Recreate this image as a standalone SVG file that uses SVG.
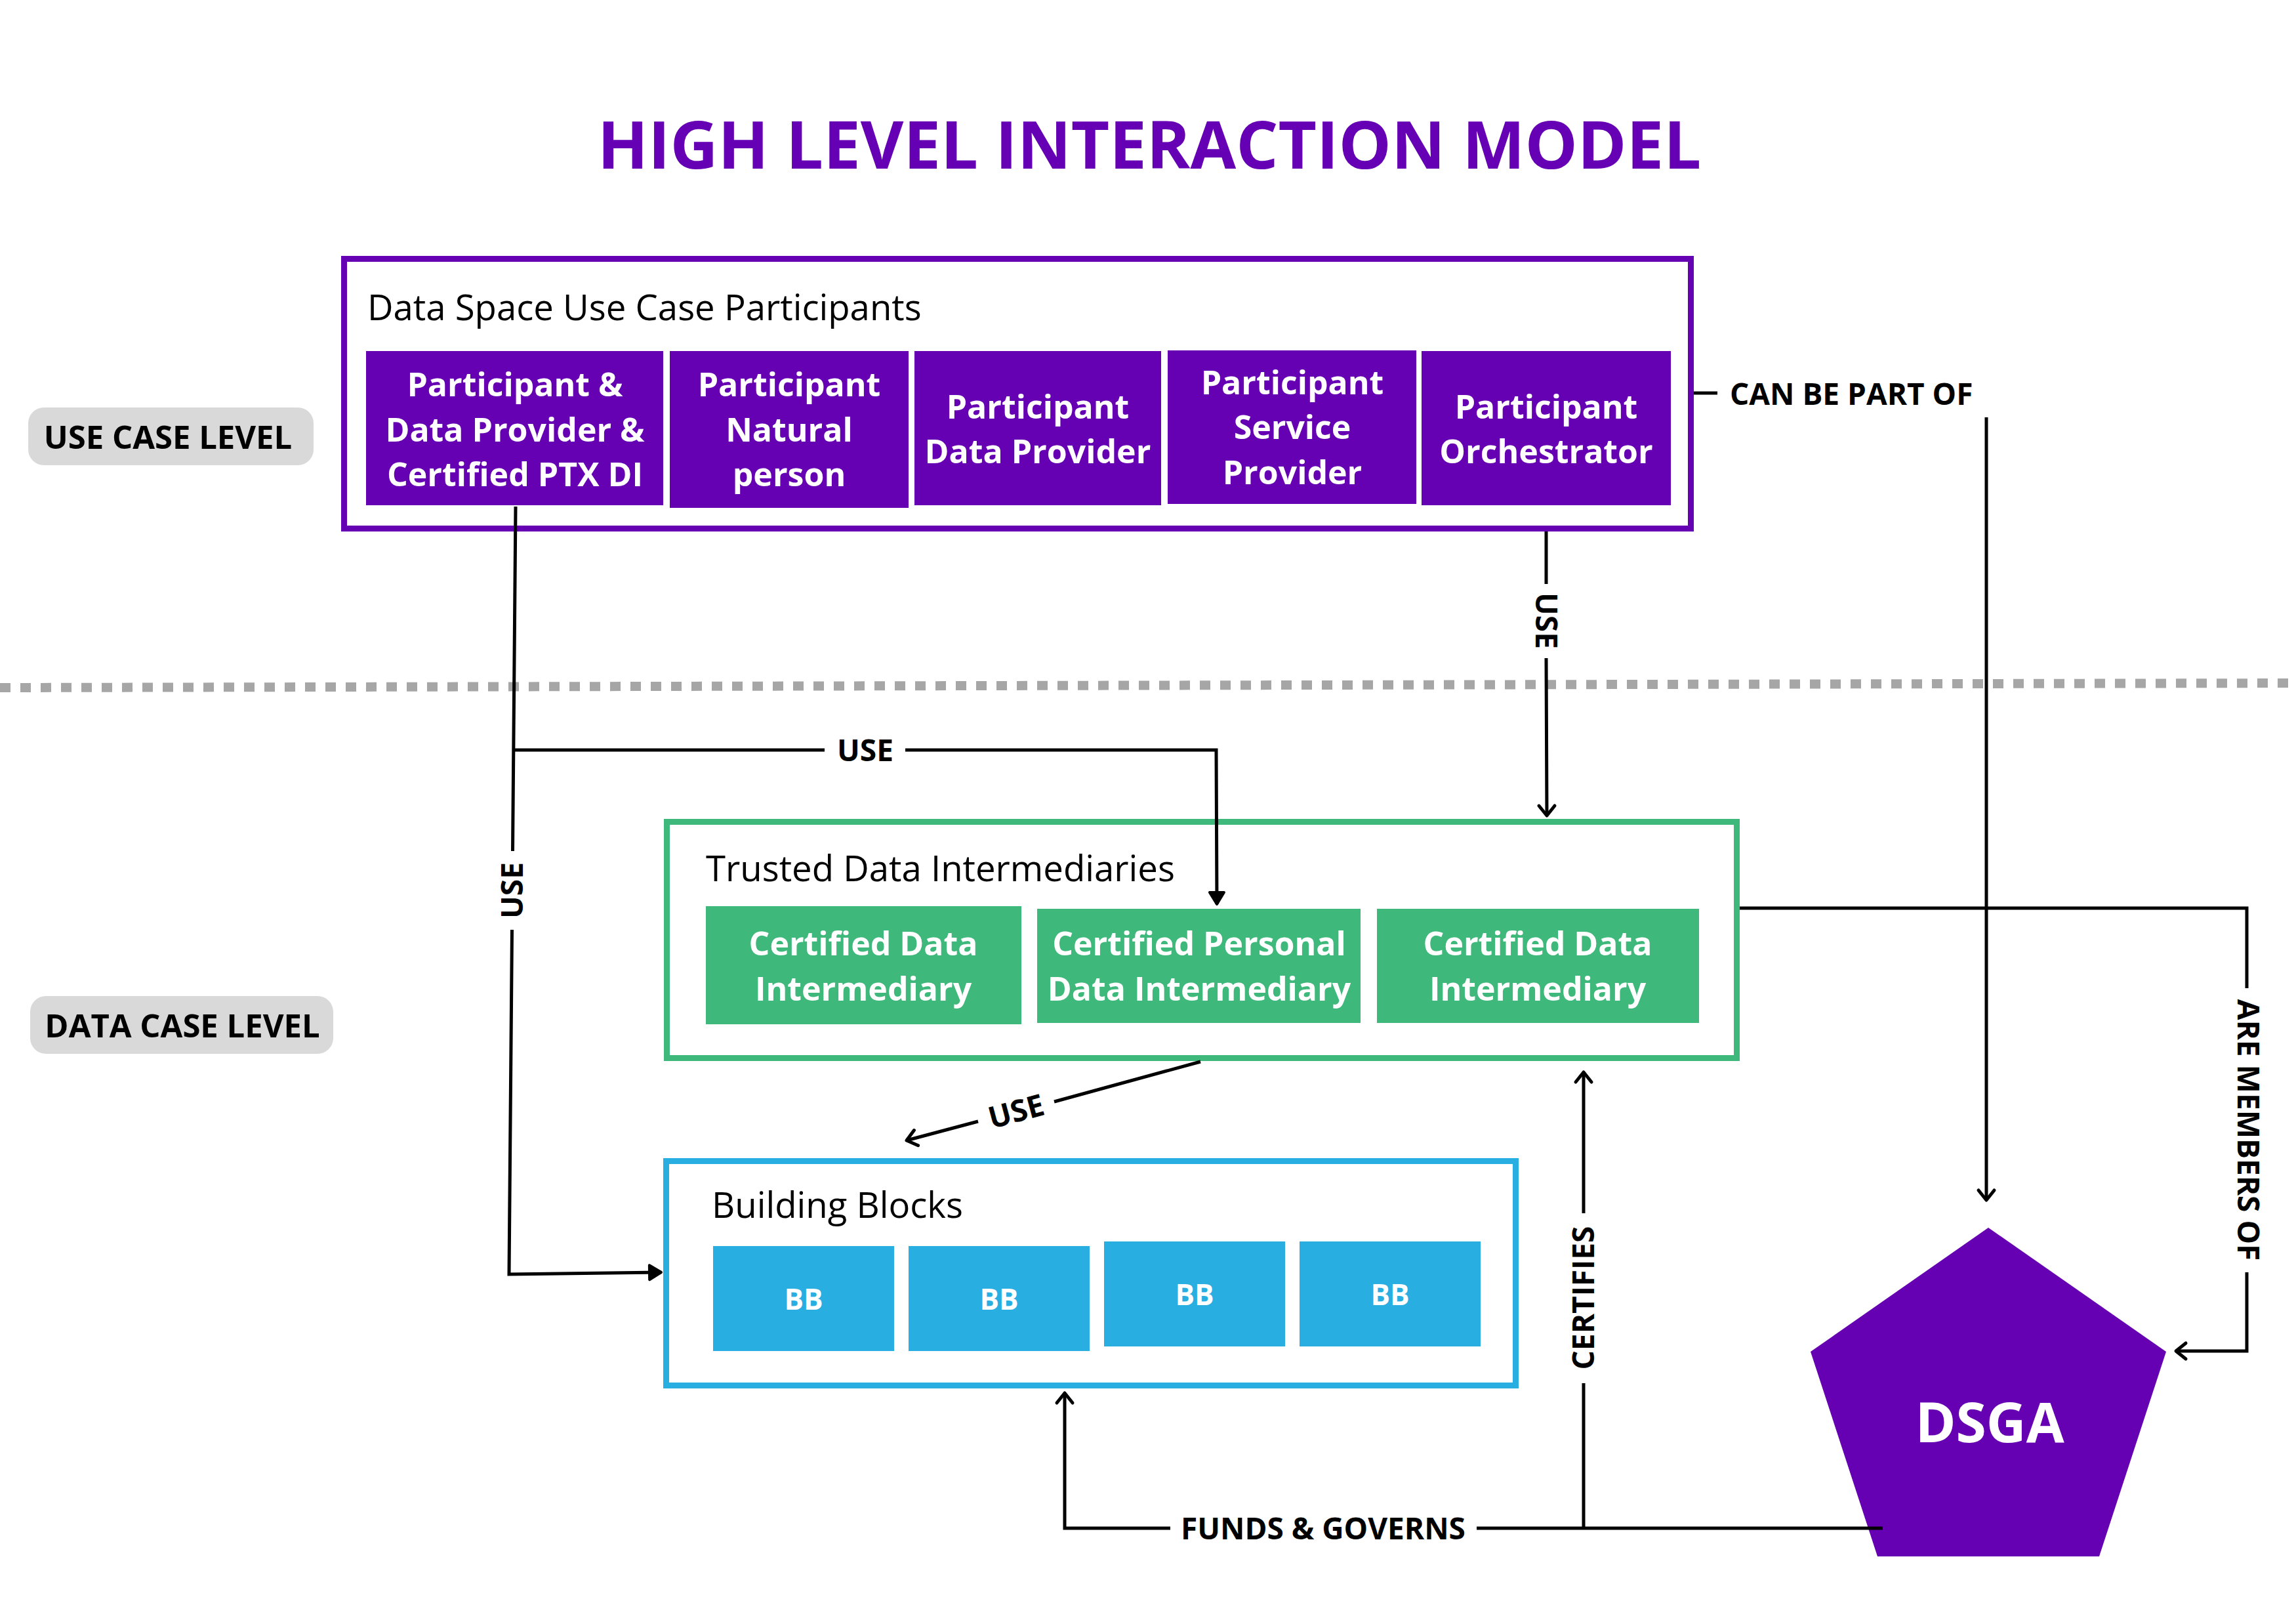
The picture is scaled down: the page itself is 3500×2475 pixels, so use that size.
<svg xmlns="http://www.w3.org/2000/svg" width="3500" height="2475" viewBox="0 0 3500 2475">
<defs>
<style>
text{font-family:"Open Sans","Noto Sans","Liberation Sans",sans-serif}
.title{font-size:101px;font-weight:700;fill:#6600b4}
.head{font-size:54.5px;font-weight:400;fill:#000}
.wt{font-size:50px;font-weight:700;fill:#fff;text-anchor:middle}
.bb{font-size:44px;font-weight:700;fill:#fff;text-anchor:middle}
.lbl{font-size:46px;font-weight:700;fill:#000}
.mid{text-anchor:middle}
.lvl{font-size:49px;font-weight:700;fill:#000;text-anchor:middle}
.pill{fill:#d9d9d9}
.pur{fill:#6500b3}
.grn{fill:#3fb87b}
.blu{fill:#29aee2}
.conn{fill:none;stroke:#000;stroke-width:5;stroke-linejoin:miter}
</style>
<marker id="chev" markerUnits="userSpaceOnUse" markerWidth="60" markerHeight="60" viewBox="-30 -30 60 60" refX="0" refY="0" orient="auto" overflow="visible">
<path d="M-15,-12 L0,0 L-15,12" fill="none" stroke="#000" stroke-width="5" stroke-linecap="round" stroke-linejoin="round"/>
</marker>
<marker id="tri" markerUnits="userSpaceOnUse" markerWidth="60" markerHeight="60" viewBox="-30 -30 60 60" refX="0" refY="0" orient="auto" overflow="visible">
<path d="M-18,-11 L0,0 L-18,11 Z" fill="#000" stroke="#000" stroke-width="4" stroke-linejoin="round"/>
</marker>
</defs>
<rect width="3500" height="2475" fill="#fff"/>

<text class="title mid" x="1752" y="257">HIGH LEVEL INTERACTION MODEL</text>

<line x1="0" y1="1048" x2="3500" y2="1041" stroke="#a6a6a6" stroke-width="14" stroke-dasharray="16 15"/>

<g id="use-case-level">
<rect class="pill" x="43" y="621" width="435" height="88" rx="24"/>
<text class="lvl" x="256" y="684">USE CASE LEVEL</text>
</g>
<g id="data-case-level">
<rect class="pill" x="46" y="1518" width="462" height="88" rx="24"/>
<text class="lvl" x="278" y="1581">DATA CASE LEVEL</text>
</g>

<g id="participants">
<rect x="524.5" y="394.5" width="2053" height="411" fill="#fff" stroke="#6500b3" stroke-width="9"/>
<text class="head" x="560" y="488">Data Space Use Case Participants</text>
</g>
<g id="p1">
<rect class="pur" x="558" y="535" width="453" height="235"/>
<text class="wt" x="785" y="604">Participant &amp;</text>
<text class="wt" x="785" y="673">Data Provider &amp;</text>
<text class="wt" x="785" y="741">Certified PTX DI</text>
</g>
<g id="p2">
<rect class="pur" x="1021" y="535" width="364" height="239"/>
<text class="wt" x="1203" y="604">Participant</text>
<text class="wt" x="1203" y="673">Natural</text>
<text class="wt" x="1203" y="741">person</text>
</g>
<g id="p3">
<rect class="pur" x="1394" y="535" width="376" height="235"/>
<text class="wt" x="1582" y="638">Participant</text>
<text class="wt" x="1582" y="706">Data Provider</text>
</g>
<g id="p4">
<rect class="pur" x="1780" y="534" width="379" height="234"/>
<text class="wt" x="1970" y="601">Participant</text>
<text class="wt" x="1970" y="669">Service</text>
<text class="wt" x="1970" y="738">Provider</text>
</g>
<g id="p5">
<rect class="pur" x="2167" y="535" width="380" height="235"/>
<text class="wt" x="2357" y="638">Participant</text>
<text class="wt" x="2357" y="706">Orchestrator</text>
</g>

<g id="intermediaries">
<rect x="1016.5" y="1252.5" width="1631" height="360" fill="#fff" stroke="#3fb87b" stroke-width="9"/>
<text class="head" x="1076" y="1343">Trusted Data Intermediaries</text>
</g>
<g id="cdi1">
<rect class="grn" x="1076" y="1381" width="481" height="180"/>
<text class="wt" x="1316" y="1456">Certified Data</text>
<text class="wt" x="1316" y="1525">Intermediary</text>
</g>
<g id="cpdi">
<rect class="grn" x="1581" y="1385" width="493" height="174"/>
<text class="wt" x="1828" y="1456">Certified Personal</text>
<text class="wt" x="1828" y="1525">Data Intermediary</text>
</g>
<g id="cdi2">
<rect class="grn" x="2099" y="1385" width="491" height="174"/>
<text class="wt" x="2344" y="1456">Certified Data</text>
<text class="wt" x="2344" y="1525">Intermediary</text>
</g>

<g id="building-blocks">
<rect x="1015.5" y="1769.5" width="1295" height="342" fill="#fff" stroke="#29aee2" stroke-width="9"/>
<text class="head" x="1085" y="1856">Building Blocks</text>
</g>
<g id="bb1">
<rect class="blu" x="1087" y="1899" width="276" height="160"/>
<text class="bb" x="1225" y="1996">BB</text>
</g>
<g id="bb2">
<rect class="blu" x="1385" y="1899" width="276" height="160"/>
<text class="bb" x="1523" y="1996">BB</text>
</g>
<g id="bb3">
<rect class="blu" x="1683" y="1892" width="276" height="160"/>
<text class="bb" x="1821" y="1989">BB</text>
</g>
<g id="bb4">
<rect class="blu" x="1981" y="1892" width="276" height="160"/>
<text class="bb" x="2119" y="1989">BB</text>
</g>

<g id="dsga">
<polygon class="pur" points="3031,1871 3302,2060 3200,2372 2862,2372 2760,2060"/>
<text x="3033" y="2198" font-size="84" font-weight="700" fill="#fff" text-anchor="middle">DSGA</text>
</g>

<g id="connectors">
<path class="conn" stroke-width="4" d="M786,772 L781.5,1297 M780.5,1417 L776,1942 L1008,1939" marker-end="url(#tri)"/>
<path class="conn" d="M785,1143 L1257,1143 M1380,1143 L1854,1143 L1855,1378" marker-end="url(#tri)"/>
<path class="conn" d="M2357,810 L2357,890 M2357,1003 L2358,1243" marker-end="url(#chev)"/>
<path class="conn" d="M2582,599 L2618,599 M3028,636 L3028,1829" marker-end="url(#chev)"/>
<path class="conn" d="M2652,1384 L3425,1384 L3425,1506 M3425,1939 L3425,2059 L3317,2059" marker-end="url(#chev)"/>
<path class="conn" d="M1830,1618 L1607,1679 M1491,1709 L1382,1738" marker-end="url(#chev)"/>
<path class="conn" d="M2870,2329 L2251,2329 M1784,2329 L1623,2329 L1623,2123" marker-end="url(#chev)"/>
<path class="conn" d="M2414,2329 L2414,2108 M2414,1849 L2414,1634" marker-end="url(#chev)"/>
<text class="lbl mid" transform="translate(781,1357) rotate(-90)" x="0" y="16">USE</text>
<text class="lbl mid" x="1319" y="1160">USE</text>
<text class="lbl mid" transform="translate(2357,946) rotate(90)" x="0" y="16">USE</text>
<text class="lbl" x="2637" y="617">CAN BE PART OF</text>
<text class="lbl mid" transform="translate(3427,1722) rotate(90)" x="0" y="16">ARE MEMBERS OF</text>
<text class="lbl mid" transform="translate(1549,1694) rotate(-15)" x="0" y="16">USE</text>
<text class="lbl mid" x="2017" y="2346">FUNDS &amp; GOVERNS</text>
<text class="lbl mid" transform="translate(2414,1978) rotate(-90)" x="0" y="16">CERTIFIES</text>
</g>
</svg>
